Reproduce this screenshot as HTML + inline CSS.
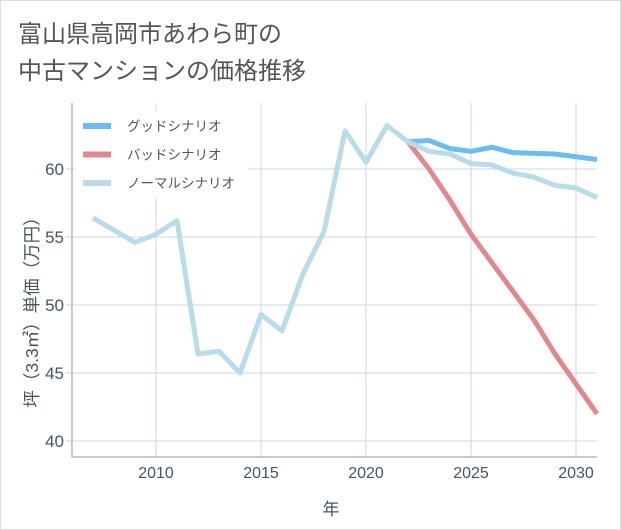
<!DOCTYPE html>
<html><head><meta charset="utf-8"><style>
body{margin:0;background:#fff;}
#wrap{width:619px;height:528px;border:1px solid #ddd;position:relative;font-family:"Liberation Sans","Noto Sans CJK JP",sans-serif;}
</style></head><body>
<div id="wrap">
<svg id="chart" width="621" height="530" style="position:absolute;left:-1px;top:-1px">
<text x="18" y="42" font-size="24" fill="#555" font-family="Liberation Sans,Noto Sans CJK JP,sans-serif">富山県高岡市あわら町の</text>
<text x="18" y="79" font-size="24" fill="#555" font-family="Liberation Sans,Noto Sans CJK JP,sans-serif">中古マンションの価格推移</text>
<g id="grid"></g><g id="axes"></g><g id="series"></g><g id="legend"></g>
<text x="331" y="515" font-size="17" fill="#445566" text-anchor="middle" font-family="Liberation Sans,Noto Sans CJK JP,sans-serif">年</text>
<text transform="translate(38,308) rotate(-90)" font-size="17.5" fill="#445566" text-anchor="middle" font-family="Liberation Sans,Noto Sans CJK JP,sans-serif">坪（3.3㎡）単価（万円）</text>
</svg>
</div>
<script>
const years=[2007,2008,2009,2010,2011,2012,2013,2014,2015,2016,2017,2018,2019,2020,2021,2022,2023,2024,2025,2026,2027,2028,2029,2030,2031];
const normal=[56.4,55.5,54.6,55.2,56.2,46.4,46.6,45.0,49.3,48.1,52.3,55.4,62.8,60.5,63.2,62.0,61.3,61.1,60.4,60.3,59.7,59.4,58.8,58.6,57.9];
const futureYears=[2022,2023,2024,2025,2026,2027,2028,2029,2030,2031];
const good=[62.0,62.1,61.5,61.3,61.6,61.2,61.15,61.1,60.9,60.7];
const bad=[62.0,60.0,57.7,55.2,53.1,51.0,48.9,46.4,44.2,42.0];
const xTicks=[2010,2015,2020,2025,2030];
const yTicks=[40,45,50,55,60];
const NS='http://www.w3.org/2000/svg';
const L=72,R=597,T=103,B=457;
const x=v=>156+(v-2010)*21;
const y=v=>169+(60-v)*13.6;
function mk(tag,attrs,parent){const e=document.createElementNS(NS,tag);for(const k in attrs)e.setAttribute(k,attrs[k]);parent.appendChild(e);return e;}
const grid=document.getElementById('grid'),axes=document.getElementById('axes'),ser=document.getElementById('series'),leg=document.getElementById('legend');
xTicks.forEach(t=>{const l=mk('line',{x1:x(t),x2:x(t),y1:T,y2:B,stroke:'#c8d8e6','stroke-width':1},grid);


const tx=mk('text',{x:x(t),y:B+21,'font-size':16,fill:'#445566','text-anchor':'middle'},axes);tx.textContent=t;

});
yTicks.forEach(t=>{const l=mk('line',{x1:L-6,x2:R,y1:y(t),y2:y(t),stroke:'#c8d8e6','stroke-width':1},grid);


const tx=mk('text',{x:L-8,y:y(t)+6,'font-size':17,fill:'#445566','text-anchor':'end'},axes);tx.textContent=t;

});
const ax=mk('path',{d:`M${L},${T}V${B}H${R}`,fill:'none',stroke:'#8899aa','stroke-width':1},axes);


function line(xs,vs,color,name){const p=mk('polyline',{points:xs.map((v,i)=>x(v)+','+y(vs[i])).join(' '),fill:'none',stroke:color,'stroke-width':5,'stroke-linejoin':'round'},ser);

}
line(futureYears,good,'#6bbcf0','good-scenario-line');
line(futureYears,bad,'#e08890','bad-scenario-line');
line(years,normal,'#b8dcea','normal-scenario-line');
const bg=mk('rect',{x:76,y:111,width:172,height:86,fill:'#fff'},leg);


[['グッドシナリオ','#6bbcf0'],['バッドシナリオ','#e08890'],['ノーマルシナリオ','#b8dcea']].forEach((d,i)=>{
const yy=126+i*28.5;
const r=mk('rect',{x:83,y:yy-3,width:28,height:6,fill:d[1]},leg);


const t=mk('text',{x:127,y:yy+5,'font-size':13.5,fill:'#555'},leg);t.textContent=d[0];

});
</script>
</body></html>
